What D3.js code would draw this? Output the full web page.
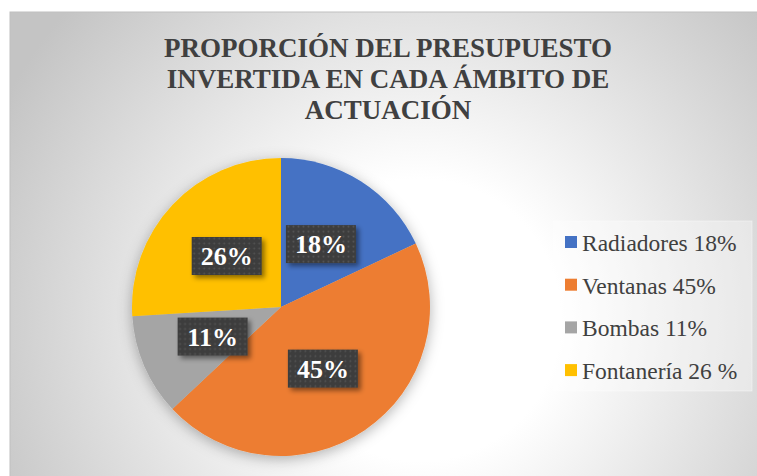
<!DOCTYPE html>
<html><head><meta charset="utf-8">
<script src="https://cdn.jsdelivr.net/npm/d3@7/dist/d3.min.js"></script>
<style>html,body{margin:0;padding:0;background:#fff;}svg{display:block;}</style>
</head><body>
<svg id="chart" width="757" height="476"></svg>
<script>
const titleLines = ["PROPORCIÓN DEL PRESUPUESTO", "INVERTIDA EN CADA ÁMBITO DE", "ACTUACIÓN"];
const categories = ["Radiadores", "Ventanas", "Bombas", "Fontanería"];
const values = [18, 45, 11, 26];
const legendLabels = ["Radiadores 18%", "Ventanas 45%", "Bombas 11%", "Fontanería 26 %"];
const dataLabels = ["18%", "45%", "11%", "26%"];
const colors = ["#4472C4", "#ED7D31", "#A5A5A5", "#FFC000"];
const SERIF = '"Liberation Serif"';

const svg = d3.select("#chart");
const defs = svg.append("defs");

const grad = defs.append("radialGradient").attr("id", "bg")
  .attr("gradientUnits", "userSpaceOnUse").attr("cx", 420).attr("cy", 320).attr("r", 470);
grad.append("stop").attr("offset", "0").attr("stop-color", "#ffffff");
grad.append("stop").attr("offset", "0.3").attr("stop-color", "#ffffff");
grad.append("stop").attr("offset", "1").attr("stop-color", "#c4c4c4");

const pat = defs.append("pattern").attr("id", "dots").attr("patternUnits", "userSpaceOnUse")
  .attr("width", 5).attr("height", 5);
pat.append("rect").attr("width", 5).attr("height", 5).attr("fill", "#3d3d3d");
pat.append("circle").attr("cx", 2.5).attr("cy", 2.5).attr("r", 0.9).attr("fill", "#555555");

const pieShadow = defs.append("filter").attr("id", "pieShadow")
  .attr("x", "-20%").attr("y", "-20%").attr("width", "140%").attr("height", "140%");
pieShadow.append("feDropShadow").attr("dx", 0).attr("dy", 3).attr("stdDeviation", 7)
  .attr("flood-color", "#000").attr("flood-opacity", 0.3);

const boxShadow = defs.append("filter").attr("id", "boxShadow")
  .attr("x", "-30%").attr("y", "-30%").attr("width", "160%").attr("height", "160%");
boxShadow.append("feDropShadow").attr("dx", 3).attr("dy", 3).attr("stdDeviation", 2.5)
  .attr("flood-color", "#000").attr("flood-opacity", 0.45);

// chart area
svg.append("rect").attr("x", 10).attr("y", 12).attr("width", 760).attr("height", 480)
  .attr("fill", "url(#bg)").attr("stroke", "#bfbfbf").attr("stroke-width", 1);

// title
svg.append("g").selectAll("text").data(titleLines).join("text")
  .attr("x", 388).attr("y", (d, i) => 57 + i * 31)
  .attr("text-anchor", "middle")
  .style("font-family", SERIF).style("font-weight", "bold").style("font-size", "27px")
  .attr("fill", "#404040")
  .text(d => d);

// pie
const cx = 281, cy = 307, R = 149;
const pie = d3.pie().sort(null).value(d => d)(values);
const arc = d3.arc().innerRadius(0).outerRadius(R);
const labelArc = d3.arc().innerRadius(R * 0.5).outerRadius(R * 0.5);

const g = svg.append("g").attr("transform", `translate(${cx},${cy})`);
g.append("g").attr("filter", "url(#pieShadow)")
  .selectAll("path").data(pie).join("path")
  .attr("d", arc).attr("fill", (d, i) => colors[i]);

const lbl = g.append("g").selectAll("g").data(pie).join("g")
  .attr("transform", d => { const c = labelArc.centroid(d); return `translate(${c[0]},${c[1]})`; });
const bw = 70, bh = 38;
lbl.append("rect").attr("x", -bw / 2).attr("y", -bh / 2).attr("width", bw).attr("height", bh)
  .attr("fill", "url(#dots)").attr("filter", "url(#boxShadow)");
lbl.append("text").attr("text-anchor", "middle").attr("y", 9)
  .style("font-family", SERIF).style("font-weight", "bold").style("font-size", "26px")
  .attr("fill", "#ffffff")
  .text((d, i) => dataLabels[i]);

// legend
const lg = svg.append("g");
lg.append("rect").attr("x", 553).attr("y", 221).attr("width", 199).attr("height", 170)
  .attr("fill", "#ffffff").attr("fill-opacity", 0.35).attr("stroke", "#ffffff").attr("stroke-opacity", 0.4);
const items = lg.selectAll("g").data(categories).join("g")
  .attr("transform", (d, i) => `translate(565,${243 + i * 42.7})`);
items.append("rect").attr("x", 0).attr("y", -7).attr("width", 12).attr("height", 12)
  .attr("fill", (d, i) => colors[i]);
items.append("text").attr("x", 17).attr("y", 8)
  .style("font-family", SERIF).style("font-size", "23.5px")
  .attr("fill", "#404040")
  .text((d, i) => legendLabels[i]);
</script>
</body></html>
